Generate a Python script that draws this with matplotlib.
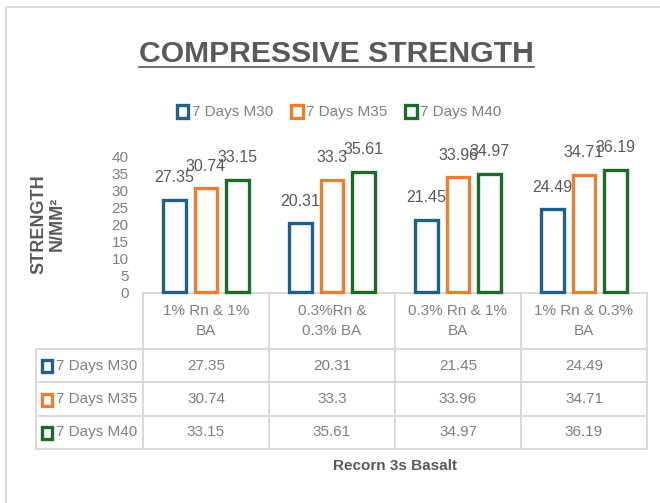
import matplotlib
matplotlib.use("Agg")
import matplotlib.pyplot as plt
from matplotlib import font_manager
from matplotlib.patches import Patch, Rectangle
from matplotlib.lines import Line2D
from matplotlib.table import Table
import numpy as np

# ── data ──────────────────────────────────────────────────────────────────────

categories = ["1% Rn & 1%\nBA", "0.3%Rn &\n0.3% BA", "0.3% Rn & 1%\nBA", "1% Rn & 0.3%\nBA"]
series = ["7 Days M30", "7 Days M35", "7 Days M40"]
m30 = [27.35, 20.31, 21.45, 24.49]
m35 = [30.74, 33.3, 33.96, 34.71]
m40 = [33.15, 35.61, 34.97, 36.19]
values = [m30, m35, m40]
yticks = [0, 5, 10, 15, 20, 25, 30, 35, 40]

COLORS = ["#1f5f88", "#ed7d31", "#1c6b29"]
DARK = "#595959"
GRAY = "#7f7f7f"
LINE = "#d9d9d9"

# ── fonts ─────────────────────────────────────────────────────────────────────

names = {f.name for f in font_manager.fontManager.ttflist}
NARROW = "Liberation Sans Narrow" if "Liberation Sans Narrow" in names else "Liberation Sans"
plt.rcParams["font.family"] = [NARROW, "DejaVu Sans"]
FS = 13.3 if NARROW.endswith("Narrow") else 11

W, H = 660, 503
def fx(px):
    return px / W
def fy(py):
    return 1 - py / H

fig = plt.figure(figsize=(6.6, 5.03), dpi=100)

# outer chart border
fig.patches.append(Rectangle((fx(6), -0.2), 1.2, fy(7) + 0.2, transform=fig.transFigure,
                             facecolor="none", edgecolor=LINE, lw=1.3, clip_on=False))

# plot area: x 143..647, y 157 (40) .. 292 (0)
ax = fig.add_axes([fx(143), fy(292), fx(647) - fx(143), fy(157) - fy(292)])
x = np.arange(len(categories))
width = 0.18
for i, (name, vals) in enumerate(zip(series, values)):
    ax.bar(x + (i - 1) * 0.25, vals, width, facecolor="white",
           edgecolor=COLORS[i], linewidth=2.4, clip_on=False, label=name)
    for xi, v in zip(x + (i - 1) * 0.25, vals):
        ax.annotate(f"{v:g}", (xi, v), xytext=(0, 16), textcoords="offset points",
                    ha="center", va="center", fontsize=FS + 0.5, color=DARK)

ax.set_xlim(-0.5, 3.5)
ax.set_ylim(0, 40)
ax.set_yticks(yticks)
ax.set_xticks([])
ax.tick_params(axis="y", length=0, pad=10.5, labelsize=11, labelcolor=GRAY)
for lbl in ax.get_yticklabels():
    lbl.set_fontfamily("Liberation Sans")
for s in ax.spines.values():
    s.set_visible(False)
ax.patch.set_alpha(0)

# ── data table ────────────────────────────────────────────────────────────────

col_w, lab_w = 0.25, 0.25 * 107 / 126
head_h, row_h = 56, 33.3
tbl = Table(ax, bbox=[0, -(449 - 292) / 135, 1, (449 - 293) / 135])
for c, cat in enumerate(categories):
    tbl.add_cell(0, c, col_w, head_h, text=cat, loc="center")
for r, (name, vals) in enumerate(zip(series, values), start=1):
    lab = tbl.add_cell(r, -1, lab_w, row_h, text=name, loc="left")
    lab.PAD = 0.19
    for c, v in enumerate(vals):
        tbl.add_cell(r, c, col_w, row_h, text=f"{v:g}", loc="center")
tbl.auto_set_font_size(False)
tbl.set_fontsize(FS)
for (r, c), cell in tbl.get_celld().items():
    cell.set_edgecolor(LINE)
    cell.set_linewidth(1.4)
    cell.get_text().set_color(GRAY)
    if r == 0:
        cell.get_text().set_linespacing(1.6)
ax.add_table(tbl)

# legend keys inside the table row labels
for i, row_y in enumerate([366, 399.5, 432.5]):
    fig.patches.append(Rectangle((fx(42), fy(row_y + 6)), fx(10), fy(row_y - 6) - fy(row_y + 6),
                                 transform=fig.transFigure, facecolor="white",
                                 edgecolor=COLORS[i], lw=2.4))

# ── texts ─────────────────────────────────────────────────────────────────────

fig.text(fx(336.5), fy(62), "COMPRESSIVE STRENGTH", ha="center", va="baseline",
         fontsize=FS * 2 - 0.3, fontweight="bold", color=DARK)
fig.add_artist(Line2D([fx(139), fx(534)], [fy(66.5), fy(66.5)], color=DARK, lw=1.2))

handles = [Patch(facecolor="white", edgecolor=c, lw=2.4) for c in COLORS]
fig.legend(handles, series, loc="center", bbox_to_anchor=(fx(339), fy(112)), ncol=3,
           frameon=False, fontsize=FS, handlelength=0.75, handleheight=0.95,
           handletextpad=0.2, columnspacing=1.2, labelcolor=GRAY)

fig.text(fx(48), fy(224), "STRENGTH\nN/MM²", rotation=90, ha="center", va="center",
         ma="center", fontsize=13, fontweight="bold", color=DARK,
         family="Liberation Sans", linespacing=1.05)

fig.text(fx(395), fy(466), "Recorn 3s Basalt", ha="center", va="center",
         fontsize=FS, fontweight="bold", color=DARK)

fig.savefig("out.png", dpi=100)
